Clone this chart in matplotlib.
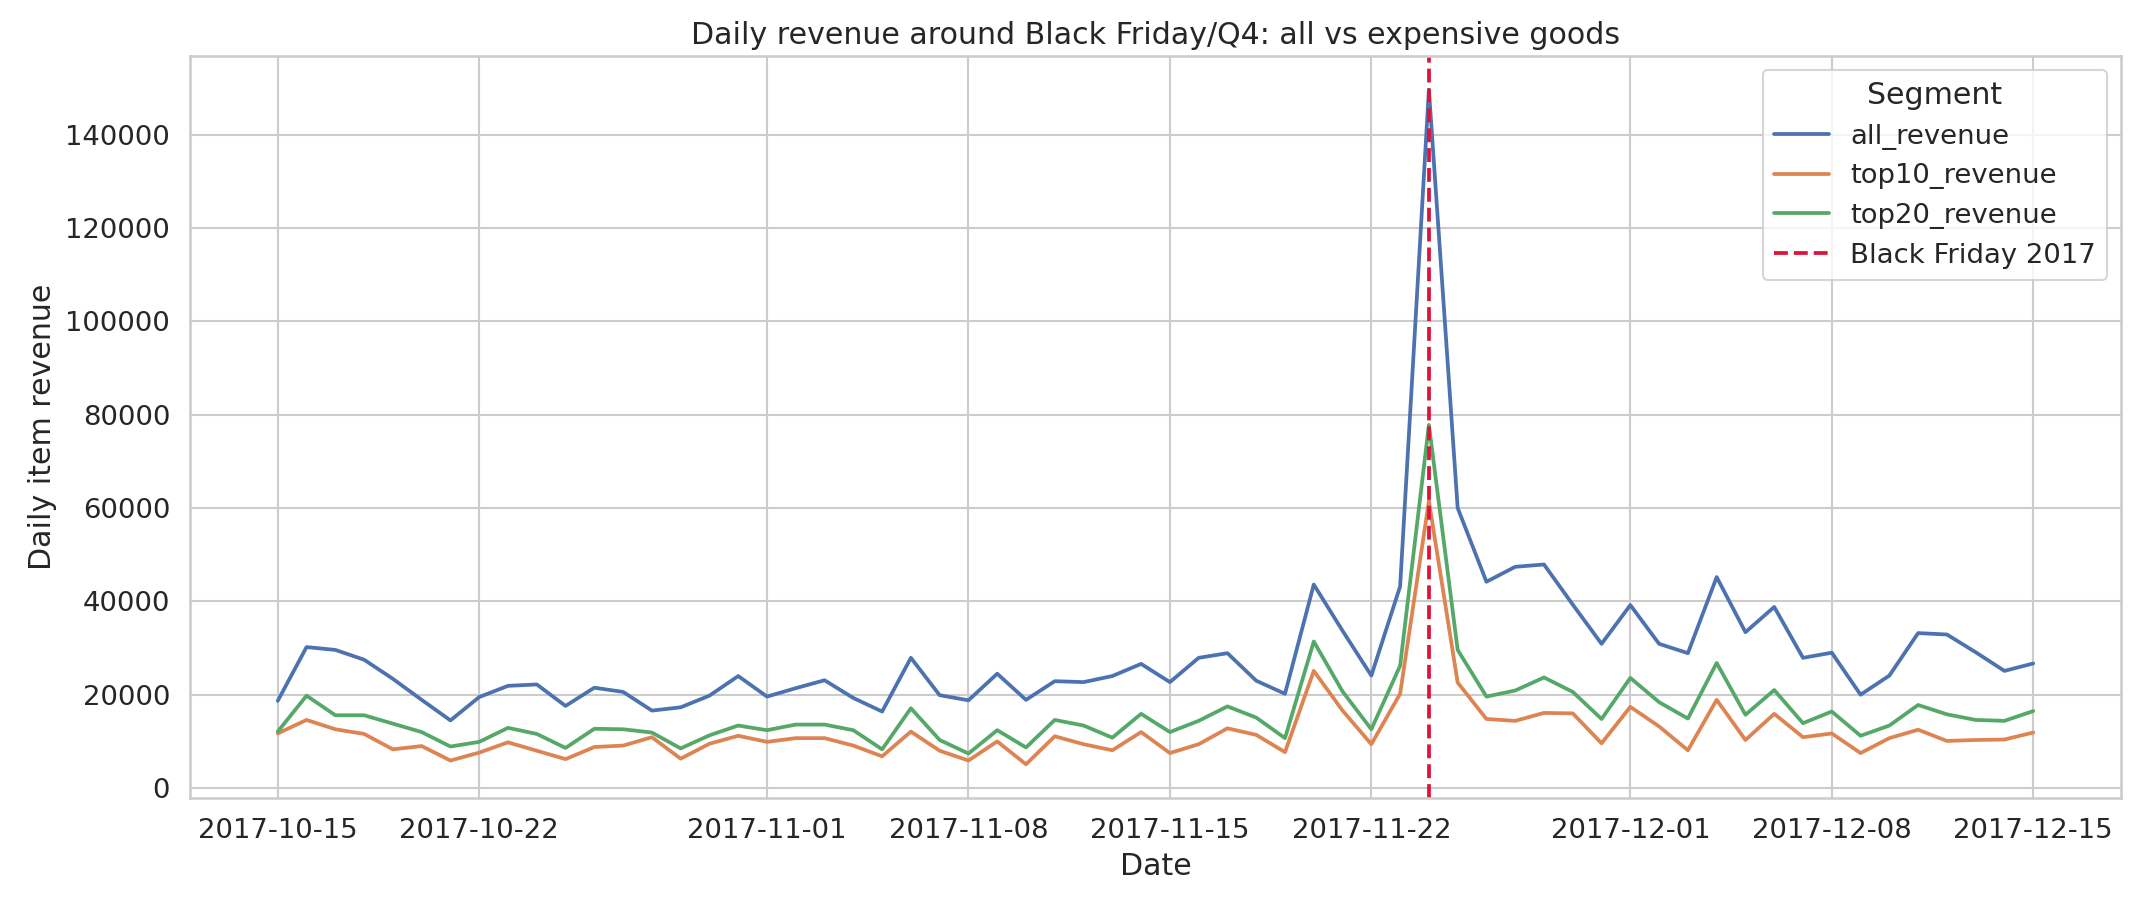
import numpy as np
import pandas as pd
import matplotlib
matplotlib.use("Agg")
import matplotlib.pyplot as plt
import matplotlib.dates as mdates
import seaborn as sns

# daily revenue, 2017-10-15 .. 2017-12-15
dates = pd.date_range("2017-10-15", "2017-12-15", freq="D")

all_revenue = [
    18700, 30200, 29600, 27500, 23400, 18900, 14500, 19500, 21900, 22200,
    17600, 21500, 20600, 16600, 17300, 19800, 24000,
    19600, 21400, 23100, 19300, 16400, 27900, 19900, 18800, 24500, 18900,
    22900, 22700, 24000, 26600, 22700, 27900, 28900, 23000, 20200, 43600,
    33700, 24100, 43200, 149600, 60000, 44200, 47400, 47900, 39300, 30900,
    39200, 30900, 28900, 45200, 33400, 38800, 27900, 29000, 20000, 24100,
    33200, 32900, 29100, 25100, 26700,
]
top10_revenue = [
    11700, 14600, 12600, 11600, 8300, 9000, 5900, 7600, 9800, 8000,
    6200, 8800, 9100, 10900, 6300, 9500, 11200,
    9900, 10700, 10700, 9100, 6800, 12100, 8000, 5900, 10000, 5100,
    11100, 9400, 8100, 12000, 7500, 9400, 12800, 11400, 7700, 25100,
    16600, 9400, 20200, 61500, 22600, 14800, 14400, 16100, 16000, 9600,
    17400, 13200, 8100, 18900, 10300, 15900, 10900, 11700, 7500, 10700,
    12500, 10100, 10300, 10400, 11900,
]
top20_revenue = [
    12100, 19800, 15600, 15600, 13800, 12000, 8900, 9900, 12900, 11600,
    8600, 12700, 12600, 11900, 8500, 11300, 13400,
    12400, 13600, 13600, 12400, 8300, 17100, 10300, 7400, 12400, 8700,
    14600, 13400, 10800, 15900, 12000, 14400, 17500, 15100, 10700, 31400,
    20700, 12600, 26200, 77800, 29600, 19600, 20900, 23700, 20600, 14800,
    23600, 18400, 14900, 26800, 15700, 21000, 13900, 16400, 11200, 13400,
    17800, 15800, 14600, 14400, 16500,
]
segments = ["all_revenue", "top10_revenue", "top20_revenue"]
black_friday = pd.Timestamp("2017-11-24")
xtick_dates = ["2017-10-15", "2017-10-22", "2017-11-01", "2017-11-08",
               "2017-11-15", "2017-11-22", "2017-12-01", "2017-12-08",
               "2017-12-15"]

df = pd.DataFrame({"date": dates,
                   "all_revenue": all_revenue,
                   "top10_revenue": top10_revenue,
                   "top20_revenue": top20_revenue})
long = df.melt(id_vars="date", value_vars=segments,
               var_name="Segment", value_name="revenue")

sns.set_theme(style="whitegrid", palette="deep")
plt.rcParams["font.family"] = ["DejaVu Sans"]
fs_small = 13.2
fs_big = 14.4

fig = plt.figure(figsize=(2138 / 150, 907 / 150), dpi=150)
ax = fig.add_axes([190 / 2138, 1 - 798 / 907, (2121 - 190) / 2138, (798 - 56) / 907])

sns.lineplot(data=long, x="date", y="revenue", hue="Segment", ax=ax, linewidth=1.8)
ax.axvline(black_friday, color="crimson", linestyle="--", linewidth=1.8,
           label="Black Friday 2017")

ax.set_xticks(pd.to_datetime(xtick_dates))
ax.xaxis.set_major_formatter(mdates.DateFormatter("%Y-%m-%d"))
ax.set_yticks(np.arange(0, 140001, 20000))
ax.tick_params(labelsize=fs_small)
ax.set_xlabel("Date", fontsize=fs_big)
ax.set_ylabel("Daily item revenue", fontsize=fs_big)
ax.set_title("Daily revenue around Black Friday/Q4: all vs expensive goods", fontsize=fs_big)
ax.legend(title="Segment", loc="upper right", fontsize=fs_small, title_fontsize=fs_big)

fig.savefig("out.png", dpi=150)
